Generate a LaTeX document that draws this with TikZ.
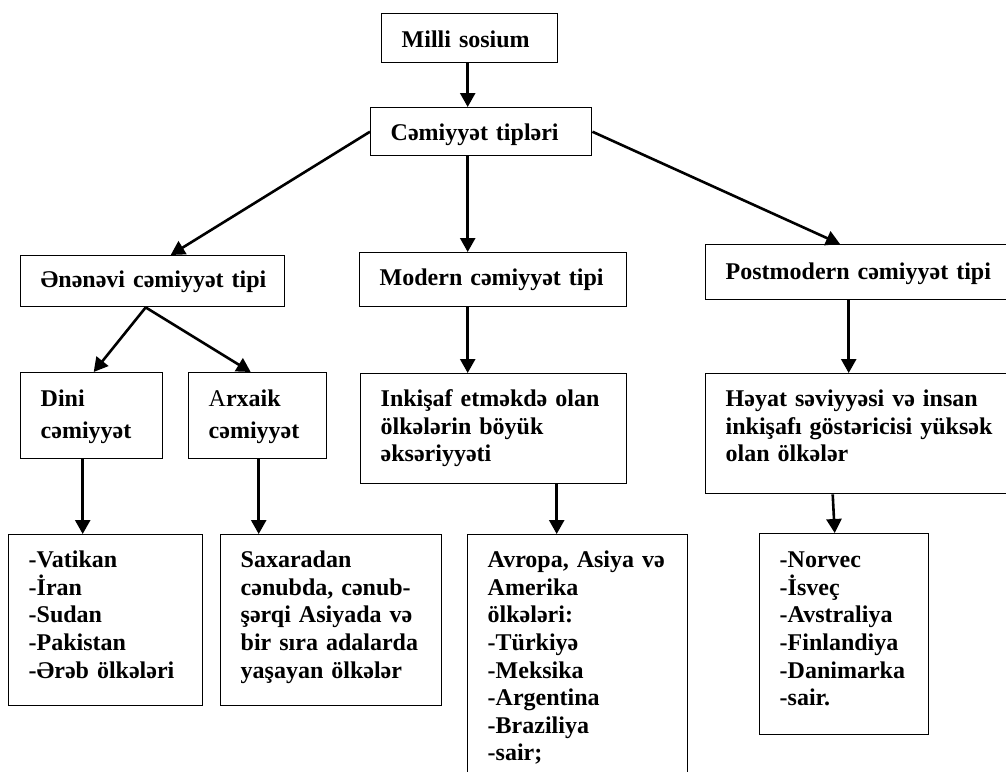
\documentclass[tikz,border=0pt]{standalone}
\usepackage{fontspec}
\setmainfont{Liberation Serif}
\usepackage{tikz}
\usetikzlibrary{positioning,arrows.meta}
\tikzset{
box/.style={draw, line width=1.4pt, anchor=north west, align=left, inner xsep=20pt, inner ysep=0pt, font=\fontsize{24}{27.6}\selectfont\bfseries},
wide/.style={font=\fontsize{24}{31.5}\selectfont\bfseries},
arr/.style={line width=2.6pt, -{Triangle[length=14pt,width=15pt]}}
}

\begin{document}
\begin{tikzpicture}[x=1pt, y=-1pt]
  \useasboundingbox (0,0) rectangle (1006,771);
  \clip (0,0) rectangle (1006,771);
  \node[box, text width=136pt, text height=34pt, text depth=15pt] (milli) at (381,13) {Milli sosium};
  \node[box, text width=181pt, text height=33pt, text depth=15pt] (types) at (370,107) {Cəmiyyət tipləri};
  \node[box, text width=224pt, text height=32pt, text depth=19pt] (enenevi) at (20,255) {Ənənəvi~cəmiyyət~tipi};
  \node[box, text width=227pt, text height=33pt, text depth=21pt] (modern) at (359,252) {Modern cəmiyyət tipi};
  \node[box, text width=267pt, text height=35pt, text depth=20pt] (postmodern) at (705,244) {Postmodern cəmiyyət tipi};
  \node[box, wide, text width=102pt, text height=34pt, text depth=52pt] (dini) at (20,372) {Dini\\cəmiyyət};
  \node[box, wide, text width=98pt, text height=34pt, text depth=52pt] (arxaik) at (188,372) {{\mdseries A}rxaik\\cəmiyyət};
  \node[box, text width=226pt, text height=33pt, text depth=77pt] (inkisaf) at (360,373) {Inkişaf etməkdə olan\\ölkələrin böyük\\əksəriyyəti};
  \node[box, text width=267pt, text height=33pt, text depth=87pt] (heyat) at (705,373) {Həyat səviyyəsi və insan\\inkişafı göstəricisi yüksək\\olan ölkələr};
  \node[box, text width=154pt, text height=33pt, text depth=138pt] (vatikan) at (8,534) {-Vatikan\\-İran\\-Sudan\\-Pakistan\\-Ərəb ölkələri};
  \node[box, text width=181pt, text height=33pt, text depth=138pt] (saxara) at (220,534) {Saxaradan\\cənubda, cənub-\\şərqi Asiyada və\\bir sıra adalarda\\yaşayan ölkələr};
  \node[box, text width=180pt, text height=33pt, text depth=233pt] (avropa) at (467,534) {Avropa, Asiya və\\Amerika\\ölkələri:\\-Türkiyə\\-Meksika\\-Argentina\\-Braziliya\\-sair;};
  \node[box, text width=129pt, text height=34pt, text depth=167pt] (norvec) at (759,533) {-Norvec\\-İsveç\\-Avstraliya\\-Finlandiya\\-Danimarka\\-sair.};

  \draw[arr] ([xshift=-2pt]milli.south) -- ([xshift=-13.5pt]types.north);
  \draw[arr] (types.west) -- ([xshift=18pt]enenevi.north);
  \draw[arr] ([xshift=-13.5pt]types.south) -- ([xshift=-25.5pt]modern.north);
  \draw[arr] (types.east) -- ([xshift=135pt]postmodern.north west);
  \draw[arr] ([xshift=-7pt]enenevi.south) -- ([xshift=2pt]dini.north);
  \draw[arr] ([xshift=-7pt]enenevi.south) -- ([xshift=-7pt]arxaik.north);
  \draw[arr] ([xshift=-9pt]dini.south) -- ([xshift=-23pt]vatikan.north);
  \draw[arr] ([xshift=1pt]arxaik.south) -- ([xshift=-72.5pt]saxara.north);
  \draw[arr] ([xshift=-25.5pt]modern.south) -- ([xshift=-26pt]inkisaf.north);
  \draw[arr] ([xshift=63pt]inkisaf.south) -- ([xshift=-21pt]avropa.north);
  \draw[arr] ([xshift=-10.5pt]postmodern.south) -- ([xshift=-10.5pt]heyat.north);
  \draw[arr] ([xshift=-26.5pt]heyat.south) -- ([xshift=-9.5pt]norvec.north);
\end{tikzpicture}
\end{document}
